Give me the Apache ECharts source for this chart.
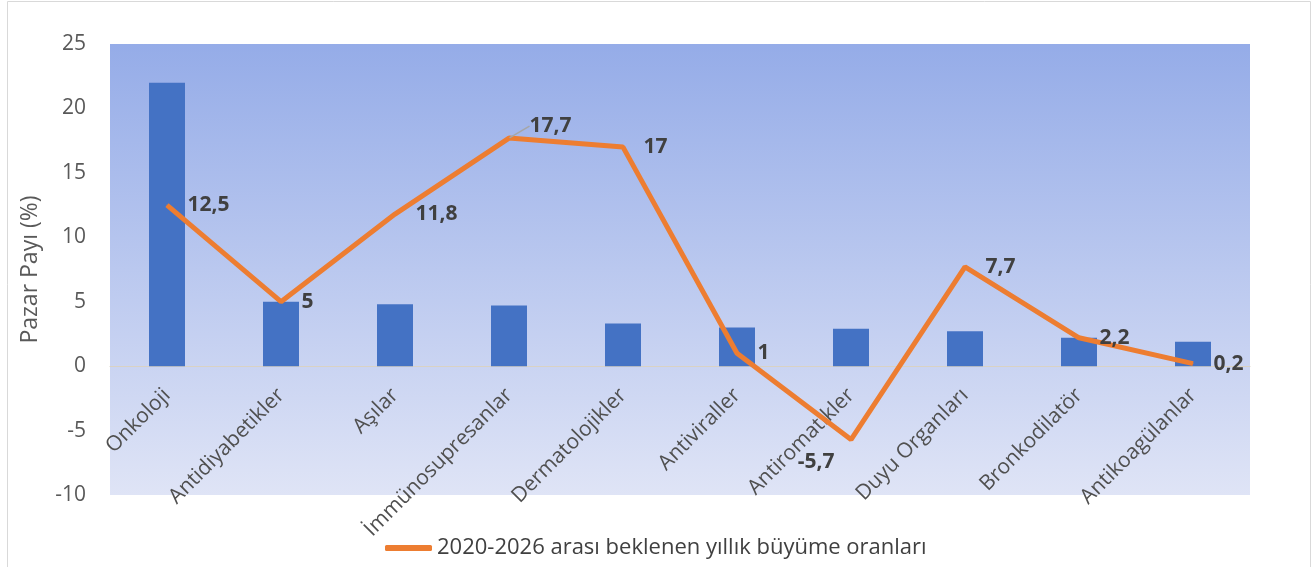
<!DOCTYPE html>
<html>
<head>
<meta charset="utf-8">
<script src="https://cdn.jsdelivr.net/npm/echarts@6/dist/echarts.min.js"></script>
<style>
  html, body { margin: 0; padding: 0; background: #fff; }
  #chart { width: 1313px; height: 567px; }
</style>
</head>
<body>
<div id="chart"></div>
<script>
// kategoriler
const categories = ['Onkoloji', 'Antidiyabetikler', 'Aşılar', 'İmmünosupresanlar', 'Dermatolojikler',
  'Antiviraller', 'Antiromatikler', 'Duyu Organları', 'Bronkodilatör', 'Antikoagülanlar'];
// pazar payı (sütunlar)
const marketShare = [22, 5, 4.8, 4.7, 3.3, 3, 2.9, 2.7, 2.2, 1.9];
// büyüme oranları (çizgi)
const growthRates = [12.5, 5, 11.8, 17.7, 17, 1, -5.7, 7.7, 2.2, 0.2];
const lineName = '2020-2026 arası beklenen yıllık büyüme oranları';

const font = '"Open Sans", sans-serif';
const myChart = echarts.init(document.getElementById('chart'));

const lineData = growthRates.map((v, i) => {
  let item = { value: v };
  if (i === 3) {
    item.labelLine = { show: true, lineStyle: { color: '#a6a6a6', width: 1.5 } };
  } else if (i === 6) {
    item.label = { position: 'left', distance: 16 };
  }
  return item;
});

const option = {
  animation: false,
  textStyle: { fontFamily: font },
  graphic: [{
    type: 'rect',
    shape: { x: 7.5, y: 1.5, width: 1303, height: 570 },
    style: { fill: 'none', stroke: '#d9d9d9', lineWidth: 1 },
    silent: true
  }],
  grid: {
    left: 110,
    right: 63,
    top: 44,
    bottom: 72,
    outerBoundsMode: 'none',
    containLabel: false,
    show: true,
    borderWidth: 0,
    backgroundColor: {
      type: 'linear', x: 0, y: 0, x2: 0, y2: 1,
      colorStops: [
        { offset: 0, color: '#95ace8' },
        { offset: 1, color: '#dfe4f6' }
      ]
    }
  },
  legend: {
    data: [{ name: lineName, itemStyle: { color: '#ed7d31' } }],
    left: 380,
    bottom: 3,
    icon: 'roundRect',
    itemWidth: 47,
    itemHeight: 6,
    itemGap: 5,
    textStyle: { fontSize: 22, color: '#404040', fontFamily: font }
  },
  xAxis: {
    type: 'category',
    data: categories,
    offset: -129,
    axisLine: { onZero: false, lineStyle: { color: '#d9d2c4', width: 1 } },
    axisTick: { show: false },
    axisLabel: {
      rotate: 45,
      interval: 0,
      margin: 26,
      fontSize: 21,
      color: '#505050',
      fontFamily: font
    }
  },
  yAxis: {
    type: 'value',
    min: -10,
    max: 25,
    interval: 5,
    name: 'Pazar Payı (%)',
    nameLocation: 'middle',
    nameGap: 68,
    nameTextStyle: { fontSize: 23, color: '#595959', fontFamily: font },
    axisLine: { show: false },
    axisTick: { show: false },
    splitLine: { show: false },
    axisLabel: { fontSize: 21, color: '#595959', margin: 24, fontFamily: font }
  },
  series: [
    {
      name: 'Pazar Payı',
      type: 'bar',
      data: marketShare,
      barWidth: 36,
      itemStyle: { color: '#4472c4' }
    },
    {
      name: lineName,
      type: 'line',
      data: lineData,
      symbol: 'circle',
      symbolSize: 1,
      showSymbol: true,
      lineStyle: { color: '#ed7d31', width: 5 },
      itemStyle: { color: '#ed7d31' },
      z: 5,
      label: {
        show: true,
        position: 'right',
        distance: 20,
        fontSize: 21,
        fontWeight: 'bold',
        color: '#404040',
        fontFamily: font,
        formatter: p => String(p.value).replace('.', ',')
      },
      labelLayout: p => {
        if (p.dataIndex === 3) return { dy: -12 };
        if (p.dataIndex === 6) return { dy: 22 };
        return {};
      }
    }
  ]
};
myChart.setOption(option);
</script>
</body>
</html>
